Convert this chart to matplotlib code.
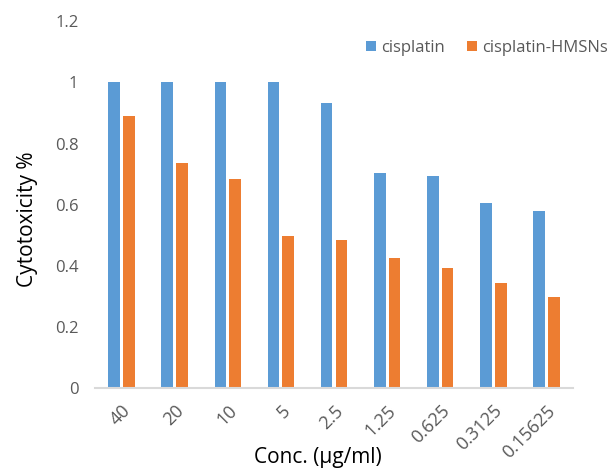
import numpy as np
import matplotlib.pyplot as plt

plt.rcParams['font.family'] = ['Open Sans', 'DejaVu Sans']

# data
conc = ['40', '20', '10', '5', '2.5', '1.25', '0.625', '0.3125', '0.15625']
cisplatin = [1.0, 1.0, 1.0, 1.0, 0.934, 0.703, 0.695, 0.604, 0.578]
cisplatin_hmsns = [0.889, 0.735, 0.685, 0.497, 0.486, 0.426, 0.393, 0.343, 0.297]

fig = plt.figure(figsize=(6.11, 4.71), dpi=100)
ax = fig.add_axes([0.1555, 0.1762, 0.7823, 0.7784])

x = np.arange(len(conc))
w = 0.22
ax.bar(x - 0.14, cisplatin, w, color='#5B9BD5', label='cisplatin')
ax.bar(x + 0.14, cisplatin_hmsns, w, color='#ED7D31', label='cisplatin-HMSNs')

ax.set_xlim(-0.5, len(conc) - 0.5)
ax.set_ylim(0, 1.2)
ax.set_yticks([0, 0.2, 0.4, 0.6, 0.8, 1.0, 1.2])
ax.set_yticklabels(['0', '0.2', '0.4', '0.6', '0.8', '1', '1.2'])
ax.set_xticks(x)
ax.set_xticklabels(conc, rotation=45, ha='right', rotation_mode='anchor', fontsize=13)

for s in ['top', 'right', 'left']:
    ax.spines[s].set_visible(False)
ax.spines['bottom'].set_color('#D9D9D9')
ax.spines['bottom'].set_linewidth(1.5)
ax.tick_params(axis='both', length=0, colors='#595959')
ax.tick_params(axis='y', pad=12, labelsize=12)
ax.tick_params(axis='x', pad=10)

ax.set_ylabel('Cytotoxicity %', fontsize=15, color='black')
ax.yaxis.set_label_coords(-0.12, 0.46)
ax.set_xlabel('Conc. (μg/ml)', fontsize=15, color='black')
ax.xaxis.set_label_coords(0.467, -0.16)

leg = fig.legend(loc='center', bbox_to_anchor=(487 / 611, 1 - 48 / 471), ncol=2,
                 frameon=False, fontsize=12, handlelength=0.6, handleheight=0.6,
                 handletextpad=0.3, columnspacing=1.3)
for t in leg.get_texts():
    t.set_color('#595959')

fig.savefig('out.png', dpi=100)
